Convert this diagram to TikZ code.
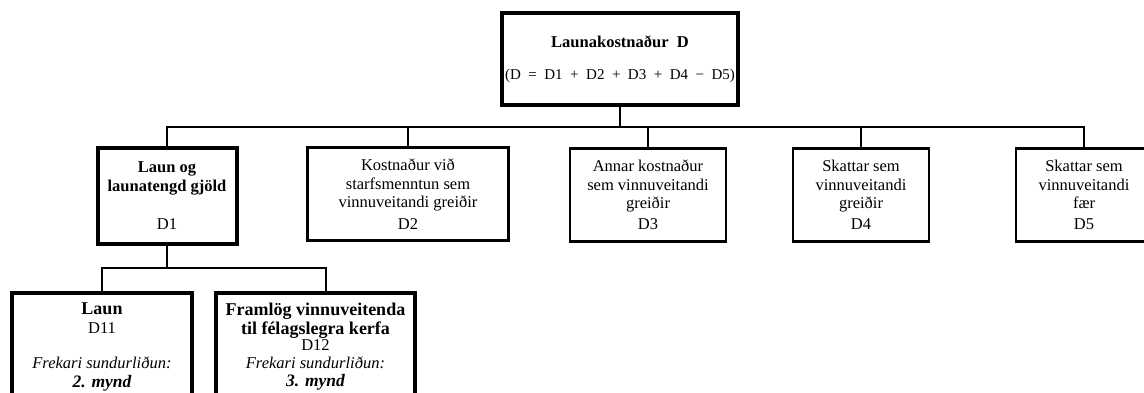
\documentclass[tikz,border=0pt]{standalone}
\usepackage{fontspec}
\setmainfont{Liberation Serif}
\usetikzlibrary{calc}

\begin{document}
\begin{tikzpicture}[x = 1pt, y = -1pt]
		\useasboundingbox (0, 0) rectangle (1144, 392);
		\clip (0, 0) rectangle (1144, 392);
		
		\begin{scope}[every node/.style={rectangle, draw, line width = 4pt, align = center, inner sep = 0pt}]
		\node (D) [minimum width = 236pt, minimum height = 92pt, font = \fontsize{15}{15}\selectfont] at (620, 59)
		{{\fontsize{16.5}{16}\selectfont\bfseries Launakostnaður\enspace D}\\[17pt]
		(D\enspace=\enspace D1\enspace+\enspace D2\enspace+\enspace D3\enspace+\enspace D4\enspace−\enspace D5)};
		\node (D1) [minimum width = 139pt, minimum height = 96pt, font = \fontsize{16.5}{19}\selectfont] at (167, 196)
		{{\bfseries Laun og}\\{\bfseries launatengd gjöld}\\[19pt] D1};
		\node (D11) [minimum width = 180pt, minimum height = 107pt, font = \fontsize{16.5}{19}\selectfont] at (102, 346.5)
		{{\fontsize{18}{19}\selectfont\bfseries Laun}\\D11\\[16pt]
		{\itshape Frekari sundurliðun:}\\{\fontsize{17.5}{19}\selectfont\bfseries\itshape 2. mynd}};
		\node (D12) [minimum width = 199pt, minimum height = 107pt, font = \fontsize{16.5}{18.5}\selectfont] at (315.5, 346.5)
		{{\fontsize{18}{19}\selectfont\bfseries Framlög vinnuveitenda}\\[1pt]
		{\fontsize{18}{19}\selectfont\bfseries til félagslegra kerfa}\\[-2.5pt] D12\\[-1pt]
		{\itshape Frekari sundurliðun:}\\{\fontsize{17.5}{19}\selectfont\bfseries\itshape 3. mynd}};
		\end{scope}
		
		\begin{scope}[every node/.style={rectangle, draw, line width = 2.8pt, align = center, inner sep = 0pt,
		minimum height = 93pt, font = \fontsize{16.5}{18.5}\selectfont}]
		\node (D2) [minimum width = 201pt] at (408, 194) {Kostnaður við\\starfsmenntun sem\\vinnuveitandi greiðir\\[3pt] D2};
		\node (D3) [minimum width = 156pt] at (648, 195) {Annar kostnaður\\sem vinnuveitandi\\greiðir\\[2pt] D3};
		\node (D4) [minimum width = 136pt] at (861, 195) {Skattar sem\\vinnuveitandi\\greiðir\\[2pt] D4};
		\node (D5) [minimum width = 136pt] at (1084, 195) {Skattar sem\\vinnuveitandi\\fær\\[2pt] D5};
		\end{scope}
		
		\begin{scope}[line width = 2.8pt]
		\coordinate (bus) at (620, 127);
		\coordinate (sub) at (167, 268);
		\draw (D.south) -- (bus);
		\draw (D1.north) |- (bus) -| (D5.north);
		\draw (D2.north) -- (D2.north |- bus);
		\draw (D3.north) -- (D3.north |- bus);
		\draw (D4.north) -- (D4.north |- bus);
		
		\draw (D1.south) -- (sub);
		\draw (D11.north) |- (sub) -| ($(D12.north) + (10.5, 0)$);
		\end{scope}
		
\end{tikzpicture}
\end{document}
